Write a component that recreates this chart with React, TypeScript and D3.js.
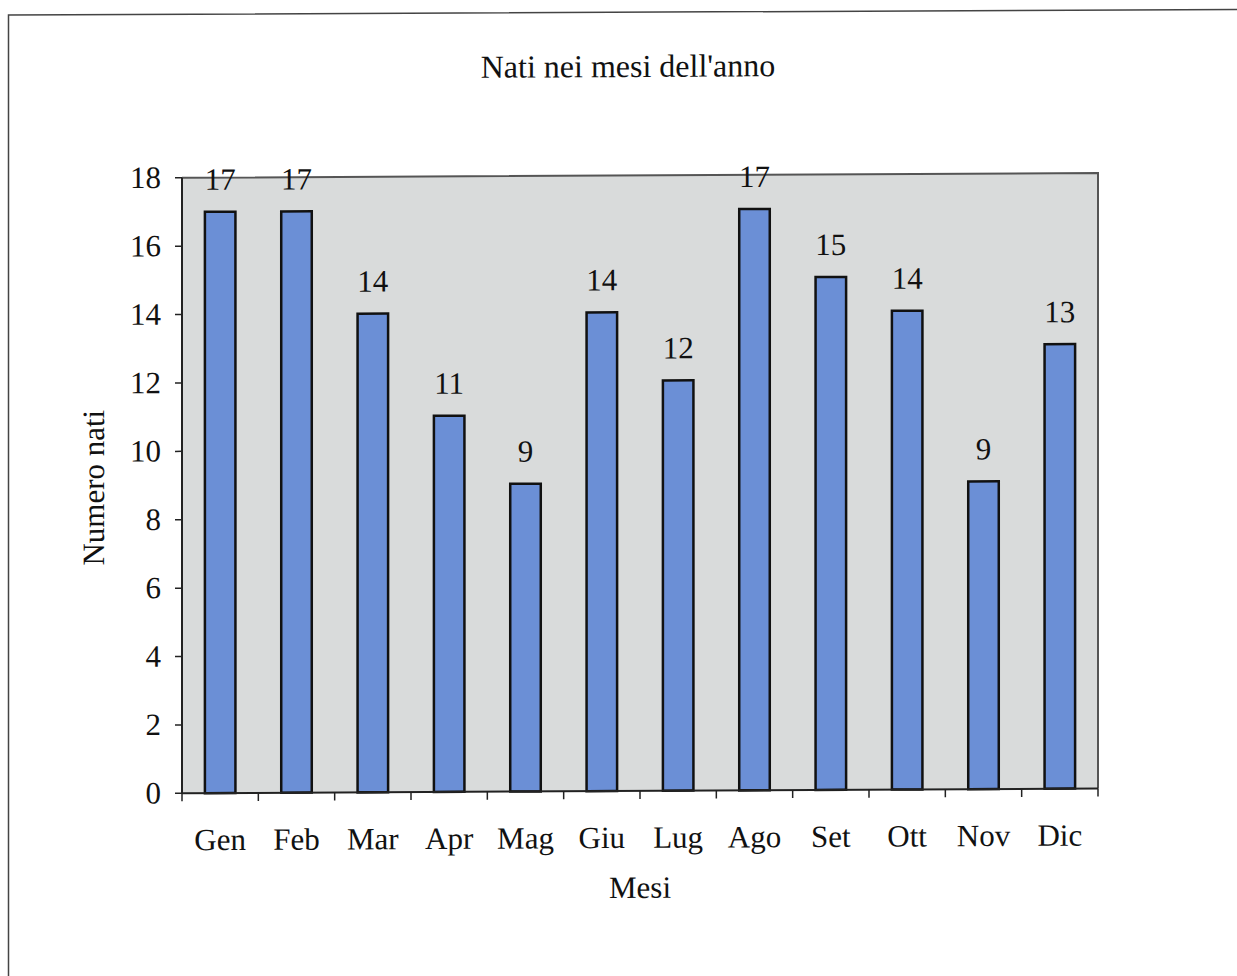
import { select, scaleBand, scaleLinear, range } from "d3";
import React, { useEffect, useRef } from "react";

const months = ["Gen", "Feb", "Mar", "Apr", "Mag", "Giu", "Lug", "Ago", "Set", "Ott", "Nov", "Dic"];
const births = [17, 17, 14, 11, 9, 14, 12, 17, 15, 14, 9, 13];
const yTicks = [0, 2, 4, 6, 8, 10, 12, 14, 16, 18];

const title = "Nati nei mesi dell'anno";
const xTitle = "Mesi";
const yTitle = "Numero nati";

const App = () => {
  const chartRef = useRef<SVGSVGElement>(null);

  useEffect(() => {
    if (!chartRef.current) return;
    const svg = select(chartRef.current);
    svg.selectAll("*").remove();

    const W = 1237;
    const H = 976;
    const font = "'Liberation Serif', 'Times New Roman', serif";
    // 그래프 영역
    const plot = { left: 182, right: 1098, top: 175.5, bottom: 791 };

    // scan is slightly sheared: horizontals tilt, verticals stay upright
    const root = svg
      .append("g")
      .attr("transform", `translate(620,0) skewY(-0.3) translate(-620,0)`);

    // outer frame (only top and left visible)
    svg
      .append("path")
      .attr("d", `M8.5,${H} L8.5,15 L${W},9.5`)
      .attr("fill", "none")
      .attr("stroke", "#444")
      .attr("stroke-width", 1.5);

    const x = scaleBand<string>()
      .domain(months)
      .range([plot.left, plot.right])
      .paddingInner(0.6)
      .paddingOuter(0.3);
    const y = scaleLinear().domain([0, 18]).range([plot.bottom, plot.top]);
    const step = x.step();
    const gap = (step - x.bandwidth()) / 2;

    // plot background
    root
      .append("rect")
      .attr("x", plot.left)
      .attr("y", plot.top)
      .attr("width", plot.right - plot.left)
      .attr("height", plot.bottom - plot.top)
      .attr("fill", "#d9dbdb");
    root
      .append("path")
      .attr("d", `M${plot.left},${plot.top} L${plot.right},${plot.top} L${plot.right},${plot.bottom}`)
      .attr("fill", "none")
      .attr("stroke", "#555")
      .attr("stroke-width", 2);

    // 막대
    root
      .selectAll(".bar")
      .data(births)
      .enter()
      .append("rect")
      .attr("class", "bar")
      .attr("x", (_, i) => x(months[i])!)
      .attr("y", (d) => y(d))
      .attr("width", x.bandwidth())
      .attr("height", (d) => y(0) - y(d))
      .attr("fill", "#6b8fd6")
      .attr("stroke", "#111")
      .attr("stroke-width", 2.5);

    // value labels
    root
      .selectAll(".val")
      .data(births)
      .enter()
      .append("text")
      .attr("x", (_, i) => x(months[i])! + x.bandwidth() / 2)
      .attr("y", (d) => y(d) - 22)
      .attr("text-anchor", "middle")
      .attr("font-family", font)
      .attr("font-size", 31)
      .attr("fill", "#111")
      .text((d) => d);

    // y axis
    const yAxis = root.append("g");
    yAxis
      .append("line")
      .attr("x1", plot.left)
      .attr("x2", plot.left)
      .attr("y1", plot.top)
      .attr("y2", plot.bottom)
      .attr("stroke", "#222")
      .attr("stroke-width", 2);
    yAxis
      .selectAll(".yt")
      .data(yTicks)
      .enter()
      .append("line")
      .attr("x1", plot.left - 7)
      .attr("x2", plot.left)
      .attr("y1", (d) => y(d))
      .attr("y2", (d) => y(d))
      .attr("stroke", "#222")
      .attr("stroke-width", 1.5);
    yAxis
      .selectAll(".yl")
      .data(yTicks)
      .enter()
      .append("text")
      .attr("x", plot.left - 21)
      .attr("y", (d) => y(d) + 10)
      .attr("text-anchor", "end")
      .attr("font-family", font)
      .attr("font-size", 31)
      .attr("fill", "#111")
      .text((d) => d);

    // x axis
    const xAxis = root.append("g");
    xAxis
      .append("line")
      .attr("x1", plot.left)
      .attr("x2", plot.right)
      .attr("y1", plot.bottom)
      .attr("y2", plot.bottom)
      .attr("stroke", "#222")
      .attr("stroke-width", 2);
    xAxis
      .selectAll(".xt")
      .data(range(months.length + 1))
      .enter()
      .append("line")
      .attr("x1", (i) => (i < months.length ? x(months[i])! - gap : plot.right))
      .attr("x2", (i) => (i < months.length ? x(months[i])! - gap : plot.right))
      .attr("y1", plot.bottom)
      .attr("y2", plot.bottom + 8)
      .attr("stroke", "#222")
      .attr("stroke-width", 1.5);
    xAxis
      .selectAll(".xl")
      .data(months)
      .enter()
      .append("text")
      .attr("x", (d) => x(d)! + x.bandwidth() / 2)
      .attr("y", plot.bottom + 57)
      .attr("text-anchor", "middle")
      .attr("font-family", font)
      .attr("font-size", 31)
      .attr("fill", "#111")
      .text((d) => d);

    // titles
    root
      .append("text")
      .attr("x", 628)
      .attr("y", 77)
      .attr("text-anchor", "middle")
      .attr("font-family", font)
      .attr("font-size", 32)
      .attr("fill", "#111")
      .text(title);
    root
      .append("text")
      .attr("x", (plot.left + plot.right) / 2)
      .attr("y", 898)
      .attr("text-anchor", "middle")
      .attr("font-family", font)
      .attr("font-size", 31)
      .attr("fill", "#111")
      .text(xTitle);
    root
      .append("text")
      .attr("transform", `translate(104,485) rotate(-90)`)
      .attr("text-anchor", "middle")
      .attr("font-family", font)
      .attr("font-size", 31)
      .attr("fill", "#111")
      .text(yTitle);
  }, []);

  return (
    <svg
      ref={chartRef}
      width={1237}
      height={976}
      style={{ position: "absolute", left: 0, top: 0, background: "#fff" }}
    ></svg>
  );
};

export default App;
